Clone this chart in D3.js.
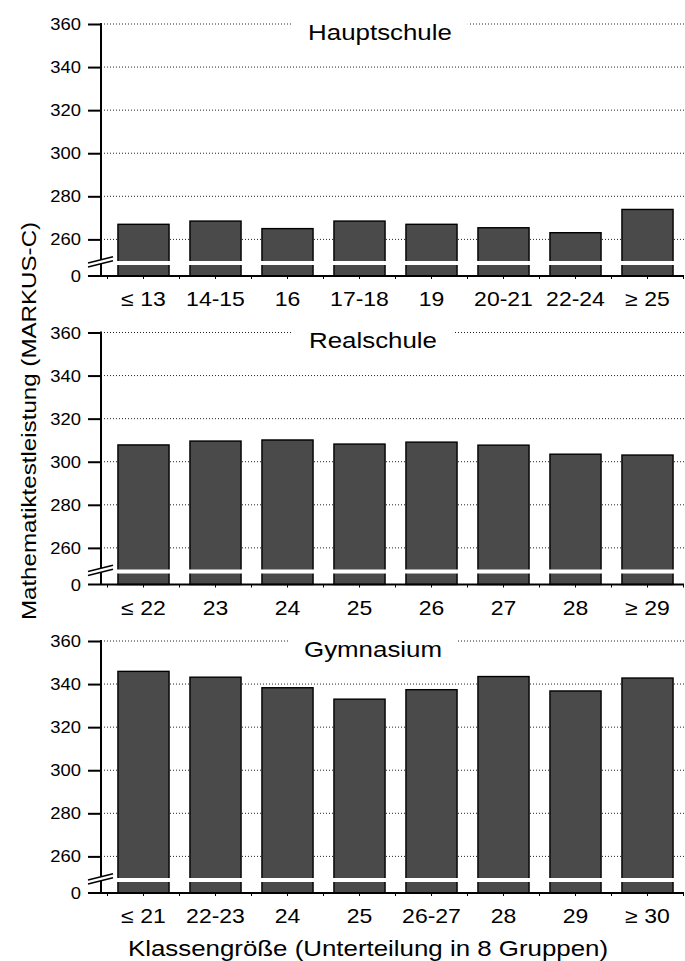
<!DOCTYPE html>
<html>
<head>
<meta charset="utf-8">
<style>
    body { margin: 0; background: #fff; }
    svg { display: block; font-family: 'Liberation Sans', Arial, Helvetica, sans-serif; }
</style>
</head>
<body>
<svg width="685" height="961"></svg>

<script src="https://d3js.org/d3.v7.min.js"></script>
<script>
    // data
    const schoolTypes = ["Hauptschule", "Realschule", "Gymnasium"];
    const hauptLabels = ["≤ 13", "14-15", "16", "17-18", "19", "20-21", "22-24", "≥ 25"];
    const hauptValues = [267.0, 268.5, 265.0, 268.5, 267.0, 265.4, 263.1, 273.9];
    const realLabels = ["≤ 22", "23", "24", "25", "26", "27", "28", "≥ 29"];
    const realValues = [307.8, 309.6, 310.1, 308.2, 309.1, 307.7, 303.5, 303.1];
    const gymLabels = ["≤ 21", "22-23", "24", "25", "26-27", "28", "29", "≥ 30"];
    const gymValues = [345.9, 343.2, 338.3, 333.0, 337.4, 343.5, 336.8, 342.8];
    const yTicks = [260, 280, 300, 320, 340, 360];

    let svg = d3.select("svg");
    let sx = 1.15;          // glyphs in the original are a bit wider than Arial
    let axisX = 101, gridEnd = 684;
    let panelH = 252;       // from 360 line to baseline
    let breakY = 239;       // where the axis is cut

    let panels = [
        {title: schoolTypes[0], labels: hauptLabels, values: hauptValues, top: 24, titleX: 380},
        {title: schoolTypes[1], labels: realLabels, values: realValues, top: 332.5, titleX: 373},
        {title: schoolTypes[2], labels: gymLabels, values: gymValues, top: 641, titleX: 373}
    ];

    function txt(g, x, y, str, size, anchor) {
        return g.append("text")
            .attr("transform", `translate(${x},${y}) scale(${sx},1)`)
            .attr("text-anchor", anchor || "middle")
            .style("font-size", size + "px")
            .attr("fill", "#000")
            .text(str);
    }

    panels.forEach(p => {
        let g = svg.append("g").attr("transform", `translate(0,${p.top})`);

        let x = d3.scaleBand()
            .domain(p.labels)
            .range([107.5, 683.5])
            .paddingInner(0.29)
            .paddingOuter(0.145);

        let y = d3.scaleLinear()
            .domain([243, 360])
            .range([panelH, 0]);

        // dotted grid
        g.append("g")
            .selectAll("line")
            .data(yTicks)
            .join("line")
            .attr("x1", axisX).attr("x2", gridEnd)
            .attr("y1", d => y(d)).attr("y2", d => y(d))
            .attr("stroke", "#222")
            .attr("stroke-width", 1)
            .attr("stroke-dasharray", "1,2");

        // panel title on a white patch
        let t = txt(g, p.titleX, 15.5, p.title, 22.5);
        let tw = t.node().getBBox().width * sx;
        g.insert("rect", "text")
            .attr("x", p.titleX - tw / 2 - 16)
            .attr("y", -4)
            .attr("width", tw + 32)
            .attr("height", 8)
            .attr("fill", "#fff");

        // bars
        g.append("g")
            .selectAll("rect")
            .data(p.values)
            .join("rect")
            .attr("x", (d, i) => x(p.labels[i]))
            .attr("y", d => y(d))
            .attr("width", x.bandwidth())
            .attr("height", d => panelH - y(d))
            .attr("fill", "#4a4a4a")
            .attr("stroke", "#000")
            .attr("stroke-width", 1.4);

        // white cut through the bars
        g.append("g")
            .selectAll("rect")
            .data(p.labels)
            .join("rect")
            .attr("x", d => x(d) - 1.5)
            .attr("y", breakY - 2)
            .attr("width", x.bandwidth() + 3)
            .attr("height", 4)
            .attr("fill", "#fff");

        // y axis ticks
        let yAxis = d3.axisLeft(y).tickValues(yTicks).tickSize(13).tickFormat("");
        let ya = g.append("g").attr("transform", `translate(${axisX},0)`).call(yAxis);
        ya.select(".domain").remove();
        ya.selectAll(".tick line").attr("stroke", "#000").attr("stroke-width", 2);

        yTicks.forEach(v => txt(g, 81, y(v) + 6, v, 16, "end"));
        txt(g, 81, panelH + 6, "0", 16, "end");

        // y axis line
        g.append("line")
            .attr("x1", axisX).attr("x2", axisX)
            .attr("y1", y(360) - 1).attr("y2", panelH)
            .attr("stroke", "#000").attr("stroke-width", 2);

        // x axis line (also the 0 tick)
        g.append("line")
            .attr("x1", 88).attr("x2", gridEnd)
            .attr("y1", panelH).attr("y2", panelH)
            .attr("stroke", "#000").attr("stroke-width", 2);

        // small ticks under the x axis
        let minor = d3.range(17).map(k => 107.5 + k * x.step() / 2);
        g.append("g")
            .selectAll("line")
            .data(minor)
            .join("line")
            .attr("x1", d => d).attr("x2", d => d)
            .attr("y1", panelH).attr("y2", panelH + 3)
            .attr("stroke", "#000").attr("stroke-width", 1);

        // axis break marks
        g.append("polygon")
            .attr("points", `88,${breakY + 2} 113,${breakY - 4.3} 113,${breakY - 0.3} 88,${breakY + 6}`)
            .attr("transform", "translate(0,-2)")
            .attr("fill", "#fff");
        [0, 4].forEach(o => {
            g.append("line")
                .attr("x1", 88).attr("y1", breakY + o)
                .attr("x2", 113).attr("y2", breakY - 6.3 + o)
                .attr("stroke", "#000").attr("stroke-width", 1.5);
        });

        // category labels
        p.labels.forEach(l => txt(g, x(l) + x.bandwidth() / 2, panelH + 30, l, 20));
    });

    // axis titles
    svg.append("text")
        .attr("transform", `translate(36,421) rotate(-90) scale(${sx},1)`)
        .attr("text-anchor", "middle")
        .style("font-size", "21px")
        .text("Mathematiktestleistung (MARKUS-C)");

    txt(svg, 368, 956, "Klassengröße (Unterteilung in 8 Gruppen)", 22.5);
</script>
</body>
</html>
